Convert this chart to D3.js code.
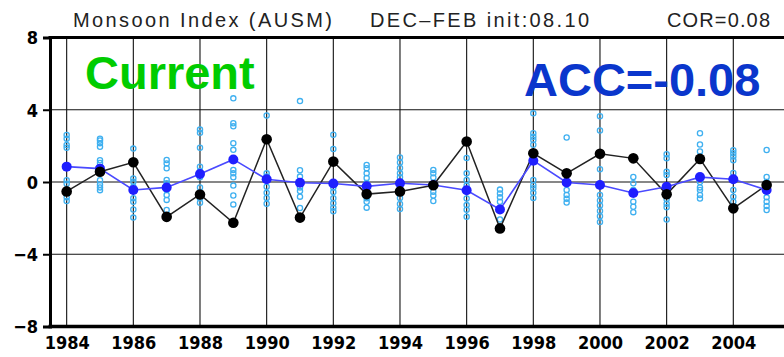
<!DOCTYPE html>
<html>
<head>
<meta charset="utf-8">
<script src="https://cdn.jsdelivr.net/npm/d3@7"></script>
<style>
  html, body { margin: 0; padding: 0; background: #fff; }
  svg { display: block; }
</style>
</head>
<body>
<svg id="chart" width="784" height="357"></svg>
<script>
const years = [1984,1985,1986,1987,1988,1989,1990,1991,1992,1993,1994,1995,1996,1997,1998,1999,2000,2001,2002,2003,2004,2005];
const obsValues = [-0.52,0.57,1.09,-1.93,-0.69,-2.26,2.37,-1.97,1.13,-0.67,-0.52,-0.18,2.24,-2.57,1.59,0.48,1.56,1.31,-0.68,1.28,-1.46,-0.17];
const ensMean = [0.85,0.74,-0.44,-0.30,0.44,1.25,0.15,-0.04,-0.08,-0.24,-0.07,-0.17,-0.46,-1.52,1.18,-0.03,-0.17,-0.61,-0.26,0.27,0.15,-0.44];
const members = [
  [2.6,2.4,2.05,1.9,0.9,0.1,-0.1,-0.55,-0.85,-1.05],
  [2.4,2.3,2.15,1.95,1.2,1.05,0.7,0.1,-0.15,-0.3,-0.45],
  [1.85,0.2,0.02,-0.26,-0.5,-0.9,-1.1,-1.52,-1.97],
  [1.22,1.03,0.76,0.11,-0.07,-0.44,-0.72,-0.99,-1.55],
  [2.9,2.72,1.9,0.85,0.6,0.26,-0.3,-0.62,-0.9,-1.15],
  [4.63,3.25,3.08,2.15,1.78,0.67,0.48,0.26,-0.2,-0.75,-1.24],
  [3.68,0.48,0.3,-0.26,-0.6,-0.88,-1.2],
  [4.48,0.65,0.3,-0.3,-0.5,-0.81,-1.44],
  [2.62,1.83,-0.3,-0.55,-0.9,-1.18,-1.42,-1.62],
  [0.94,0.76,0.48,0.22,-0.05,-0.9,-1.1,-1.42],
  [1.36,1.08,0.78,0.48,0.26,-0.3,-0.88,-1.22,-1.5],
  [0.67,0.48,0.25,-0.54,-0.75,-1.05],
  [1.33,0.48,0.11,-0.2,-0.91,-1.28,-1.53,-1.93],
  [-0.42,-0.63,-0.85,-1.09,-2.08],
  [3.8,2.7,2.5,2.33,2.06,0.11,-0.18,-0.35,-0.6,-0.88],
  [2.46,-0.07,-0.44,-0.72,-0.93,-1.14],
  [3.64,2.85,0.71,-0.72,-1.02,-1.3,-1.6,-1.9,-2.22],
  [0.28,-0.07,-0.44,-1.09,-1.37,-1.67],
  [1.54,1.31,0.57,0.39,-0.95,-1.2,-1.4,-2.08],
  [2.7,2.08,1.69,0.0,-0.3,-0.44,-0.72,-0.91],
  [1.76,1.59,1.41,1.2,0.5,-0.44,-0.81,-1.09],
  [1.77,0.28,0.0,-0.85,-1.09,-1.33,-1.55]
];
const yTicks = [8,4,0,-4,-8];
const xTickYears = [1984,1986,1988,1990,1992,1994,1996,1998,2000,2002,2004];
const titleLeft = "Monsoon Index (AUSM)";
const titleMid = "DEC\u2013FEB  init:08.10";
const titleRight = "COR=0.08";
const labelCurrent = "Current";
const labelAcc = "ACC=-0.08";

const svg = d3.select("#chart");
const x = d3.scaleLinear().domain([1983.5, 2005.5]).range([50, 783.3]);
const y = d3.scaleLinear().domain([-8, 8]).range([326.5, 37.5]);

const numFont = "'Liberation Sans Narrow', 'DejaVu Sans Condensed', sans-serif";

// grid
const g = svg.append("g");
g.selectAll("line.vg").data(xTickYears).enter().append("line")
  .attr("x1", d => x(d)).attr("x2", d => x(d))
  .attr("y1", y(8)).attr("y2", y(-8))
  .attr("stroke", "#111").attr("stroke-width", 1.1);
g.selectAll("line.hg").data([4,0,-4]).enter().append("line")
  .attr("x1", x(1983.5)).attr("x2", 784)
  .attr("y1", d => y(d)).attr("y2", d => y(d))
  .attr("stroke", "#111").attr("stroke-width", 1.1);

// frame
svg.append("line").attr("x1", x(1983.5) - 1.5).attr("x2", 784).attr("y1", y(8)).attr("y2", y(8))
  .attr("stroke", "#000").attr("stroke-width", 3);
svg.append("line").attr("x1", x(1983.5) - 1.5).attr("x2", 784).attr("y1", y(-8)).attr("y2", y(-8))
  .attr("stroke", "#000").attr("stroke-width", 3.5);

// y axis
const yAxis = d3.axisLeft(y).tickValues(yTicks).tickSize(7).tickPadding(5).tickFormat(d3.format("d"));
const ya = svg.append("g").attr("transform", `translate(${x(1983.5)},0)`).call(yAxis);
ya.select(".domain").attr("stroke", "#000").attr("stroke-width", 3);
ya.selectAll(".tick line").attr("stroke", "#000").attr("stroke-width", 2);
ya.selectAll(".tick text").attr("font-family", numFont).attr("font-weight", "bold")
  .attr("font-size", 18).attr("fill", "#000").attr("dy", "0.36em")
  .text(d => d < 0 ? "\u2212" + Math.abs(d) : d);

// x axis labels
const xAxis = d3.axisBottom(x).tickValues(xTickYears).tickSize(0).tickPadding(10).tickFormat(d3.format("d"));
const xa = svg.append("g").attr("transform", `translate(0,${y(-8)})`).call(xAxis);
xa.select(".domain").remove();
xa.selectAll(".tick text").attr("font-family", numFont).attr("font-weight", "bold")
  .attr("font-size", 18).attr("fill", "#000");

// members
const memberPts = [];
years.forEach((yr, i) => members[i].forEach(v => memberPts.push({yr, v})));
svg.append("g").selectAll("circle").data(memberPts).enter().append("circle")
  .attr("cx", d => x(d.yr)).attr("cy", d => y(d.v)).attr("r", 2.6)
  .attr("fill", "none").attr("stroke", "#3fb0f0").attr("stroke-width", 1.3);

const obs = years.map((yr, i) => ({yr, v: obsValues[i]}));
const ens = years.map((yr, i) => ({yr, v: ensMean[i]}));
const line = d3.line().x(d => x(d.yr)).y(d => y(d.v));

svg.append("path").datum(obs).attr("d", line).attr("fill", "none")
  .attr("stroke", "#222").attr("stroke-width", 1.5);
svg.append("path").datum(ens).attr("d", line).attr("fill", "none")
  .attr("stroke", "#4a4aff").attr("stroke-width", 1.6);
svg.append("g").selectAll("circle").data(ens).enter().append("circle")
  .attr("cx", d => x(d.yr)).attr("cy", d => y(d.v)).attr("r", 5)
  .attr("fill", "#1f1fff");
svg.append("g").selectAll("circle").data(obs).enter().append("circle")
  .attr("cx", d => x(d.yr)).attr("cy", d => y(d.v)).attr("r", 5.3)
  .attr("fill", "#000");

// titles
const tFont = "'Liberation Sans', Arial, sans-serif";
svg.append("text").attr("x", 73).attr("y", 27).text(titleLeft)
  .attr("font-family", tFont).attr("font-size", 20).attr("fill", "#222")
  .attr("textLength", 259).attr("lengthAdjust", "spacing");
svg.append("text").attr("x", 370).attr("y", 27).text(titleMid)
  .attr("font-family", tFont).attr("font-size", 20).attr("fill", "#222")
  .attr("textLength", 219).attr("lengthAdjust", "spacing");
svg.append("text").attr("x", 667).attr("y", 27).text(titleRight)
  .attr("font-family", tFont).attr("font-size", 20).attr("fill", "#222")
  .attr("textLength", 103).attr("lengthAdjust", "spacing");

// big labels
svg.append("text").attr("x", 85).attr("y", 89).text(labelCurrent)
  .attr("font-family", "'Liberation Sans', Arial, sans-serif").attr("font-weight", "bold")
  .attr("font-size", 47).attr("fill", "#00cc00");
svg.append("text").attr("x", 524).attr("y", 96).text(labelAcc)
  .attr("font-family", "'Liberation Sans', Arial, sans-serif").attr("font-weight", "bold")
  .attr("font-size", 47).attr("fill", "#0a36cc");
</script>
</body>
</html>
